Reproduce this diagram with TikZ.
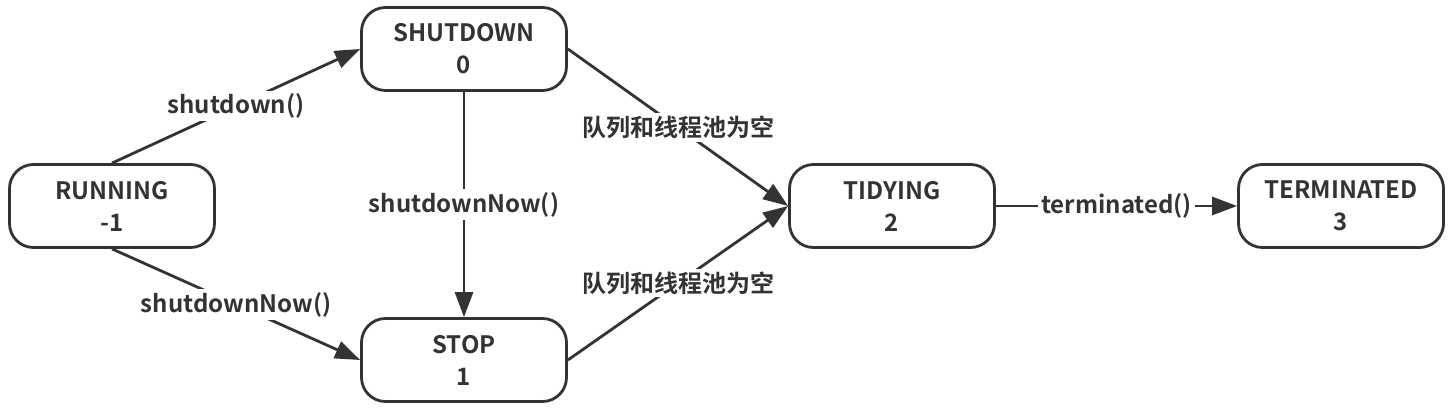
\documentclass[tikz,border=0pt]{standalone}
\usepackage{fontspec}
\setmainfont{Noto Sans CJK SC}[BoldFont={Noto Sans CJK SC Bold}]
\usepackage{tikz}
\usetikzlibrary{arrows.meta,positioning}
\definecolor{ink}{HTML}{333333}

\begin{document}
\begin{tikzpicture}[x=0.5pt,y=-0.5pt,node distance=176pt,on grid,
    line width=1.4pt,color=ink,
    >={Triangle[length=12.5pt,width=9pt]},
    phase/.style={draw,rounded corners=12pt,minimum width=102.5pt,
      minimum height=41.5pt,align=center,font=\bfseries\fontsize{12}{16}\selectfont},
    lbl/.style={fill=white,inner sep=1.5pt,font=\bfseries\fontsize{12}{16}\selectfont}]
     \useasboundingbox (0,0) rectangle (1455,410);
     \node[phase] (running) at (112,206) {RUNNING\\-1};
     \node[phase] (shutdown) [above right=78.5pt and 176pt of running] {SHUTDOWN\\0};
     \node[phase] (stop) [below right=77pt and 176pt of running] {STOP\\1};
     \node[phase] (tidying) [right=390pt of running] {TIDYING\\2};
     \node[phase] (terminated) [right=224.5pt of tidying] {TERMINATED\\3};
      \path[->]
      (running.north)  edge node[lbl] {shutdown()} (shutdown.west)
      (running.south)  edge node[lbl] {shutdownNow()} (stop.west)
      (shutdown.south) edge node[lbl] {shutdownNow()} (stop.north)
      (shutdown.east)  edge node[lbl] {队列和线程池为空} (tidying.west)
      (stop.east)      edge node[lbl] {队列和线程池为空} (tidying.west)
      (tidying.east)   edge node[lbl] {terminated()} (terminated.west);
    \end{tikzpicture}
\end{document}
